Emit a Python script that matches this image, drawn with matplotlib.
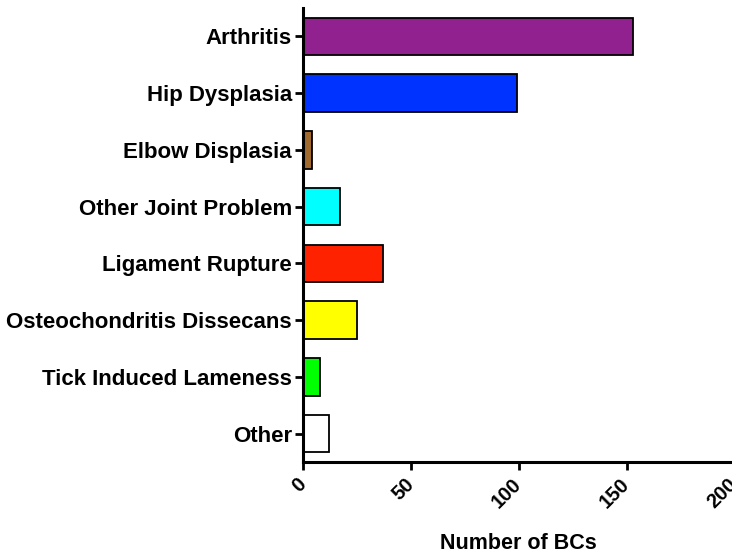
import matplotlib
matplotlib.use("Agg")
import matplotlib.pyplot as plt

categories = ["Arthritis", "Hip Dysplasia", "Elbow Displasia", "Other Joint Problem",
              "Ligament Rupture", "Osteochondritis Dissecans", "Tick Induced Lameness", "Other"]
values = [153, 99, 4, 17, 37, 25, 8, 12]
colors = ["#90218E", "#0033FF", "#A0692E", "#00FFFF", "#FF2200", "#FFFF00", "#00FF00", "#FFFFFF"]
xticks = [0, 50, 100, 150, 200]

plt.rcParams['font.family'] = ['Liberation Sans', 'DejaVu Sans']
plt.rcParams['font.weight'] = 'bold'

fig = plt.figure(figsize=(7.32, 5.54), dpi=100)
ax = fig.add_axes([303/732, 1-462/554, (734.4-303)/732, (462-8)/554])

ypos = list(range(len(categories)))
ax.barh(ypos, values, height=0.66, color=colors, edgecolor="black", linewidth=1.3)
ax.set_ylim(len(categories)-0.5, -0.5)
ax.set_xlim(0, 200)
ax.set_yticks(ypos)
ax.set_yticklabels(categories, fontsize=16, fontweight='bold')
ax.set_xticks(xticks)
ax.set_xticklabels([str(t) for t in xticks], fontsize=14.5, fontweight='bold',
                   rotation=45, ha='right', va='center', rotation_mode='anchor')
ax.tick_params(axis='both', direction='out', length=6, width=2, pad=2)
ax.tick_params(axis='x', pad=8)
for s in ['top', 'right']:
    ax.spines[s].set_visible(False)
for s in ['left', 'bottom']:
    ax.spines[s].set_linewidth(2.2)
ax.set_xlabel("Number of BCs", fontsize=15.5, fontweight='bold')
ax.xaxis.set_label_coords(0.5, -0.157)

fig.savefig("out.png", dpi=100)
